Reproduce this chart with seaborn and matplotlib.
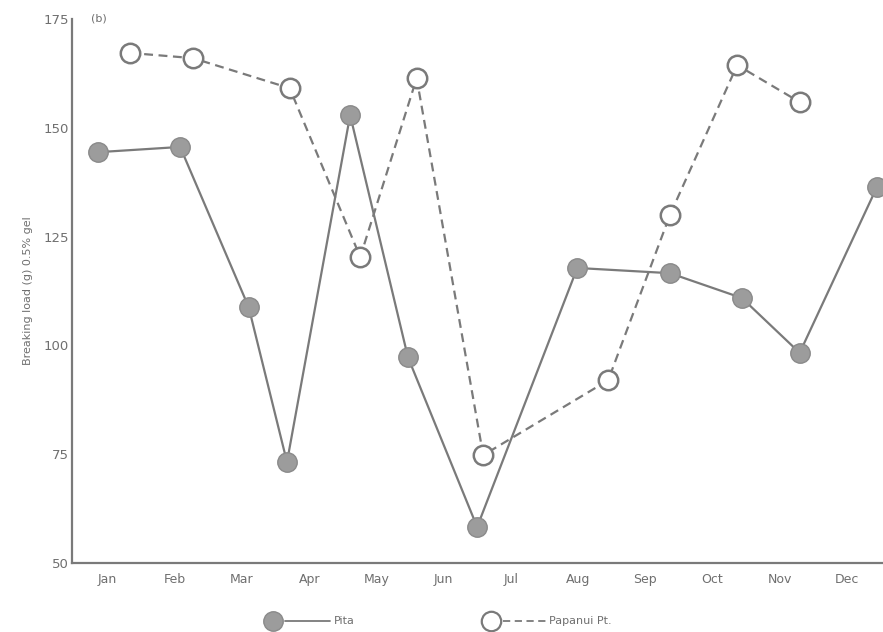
import numpy as np
import pandas as pd
import matplotlib
matplotlib.use("Agg")
import matplotlib.pyplot as plt
from matplotlib.lines import Line2D
import seaborn as sns

# Sampling time in months from 1 January, and breaking load (g) of a 0.5% gel
pita_month = [0.36, 1.58, 2.60, 3.17, 4.11, 4.97, 6.00, 7.49, 8.87, 9.94, 10.80, 11.95]
pita_load = [144.4, 145.6, 108.8, 73.2, 152.9, 97.3, 58.3, 117.8, 116.6, 110.9, 98.3, 136.4]

papanui_month = [0.83, 1.77, 3.21, 4.26, 5.10, 6.09, 7.95, 8.87, 9.87, 10.80]
papanui_load = [167.2, 166.0, 159.1, 120.3, 161.4, 74.8, 92.0, 130.0, 164.4, 155.9]

month_labels = ["Jan", "Feb", "Mar", "Apr", "May", "Jun",
                "Jul", "Aug", "Sep", "Oct", "Nov", "Dec"]
y_ticks = [50, 75, 100, 125, 150, 175]

pita = pd.DataFrame({"month": pita_month, "load": pita_load})
papanui = pd.DataFrame({"month": papanui_month, "load": papanui_load})

sns.set_style("white")
plt.rcParams["font.family"] = ["DejaVu Sans"]

ink = "#7a7a7a"
fill = "#9c9c9c"

fig = plt.figure(figsize=(8.83, 6.32), dpi=100)
ax = fig.add_axes([0.0815, 0.109, 0.9185, 0.861])

sns.lineplot(data=pita, x="month", y="load", ax=ax, color=ink, lw=1.6,
             marker="o", markersize=14, markerfacecolor=fill,
             markeredgecolor="#8a8a8a", markeredgewidth=1.0, sort=False,
             clip_on=False, zorder=3)
sns.lineplot(data=papanui, x="month", y="load", ax=ax, color=ink, lw=1.6,
             linestyle=(0, (4, 2.5)), marker="o", markersize=14,
             markerfacecolor="white", markeredgecolor=ink,
             markeredgewidth=1.8, sort=False, clip_on=False, zorder=4)

ax.set_xlim(-0.03, 12.04)
ax.set_ylim(50, 175)

# Month boundaries carry the tick marks; names sit mid-month
ax.set_xticks(np.arange(1, 13))
ax.set_xticklabels([])
ax.set_xticks(np.arange(12) + 0.5, minor=True)
ax.set_xticklabels(month_labels, minor=True)
ax.tick_params(axis="x", which="major", direction="in", length=5,
               width=1.2, color=ink)
ax.tick_params(axis="x", which="minor", length=0, pad=7,
               labelsize=9, labelcolor="#6f6f6f")

ax.set_yticks(y_ticks)
ax.set_yticklabels([str(v) for v in y_ticks])
ax.tick_params(axis="y", direction="in", length=7, width=1.2, color=ink,
               pad=2, labelsize=9.5, labelcolor="#6f6f6f")

for side in ("top", "right"):
    ax.spines[side].set_visible(False)
for side in ("left", "bottom"):
    ax.spines[side].set_color(ink)
    ax.spines[side].set_linewidth(1.6)

ax.set_xlabel("")
ax.set_ylabel("Breaking load (g) 0.5% gel", fontsize=8, color="#6f6f6f",
              labelpad=8)

ax.text(0.023, 1.0, "(b)", transform=ax.transAxes, fontsize=8,
        color="#6f6f6f", va="center", ha="left")

# Key beneath the axis
W, H = 883.0, 632.0
def fx(px):
    return px / W
def fy(py):
    return 1 - py / H

ky = 621
fig.add_artist(Line2D([fx(285), fx(330)], [fy(ky), fy(ky)], color=ink,
                      lw=1.3, transform=fig.transFigure))
fig.add_artist(Line2D([fx(273)], [fy(ky)], marker="o", markersize=14,
                      markerfacecolor=fill, markeredgecolor="#8a8a8a",
                      transform=fig.transFigure))
fig.text(fx(334), fy(ky), "Pita", fontsize=8, color="#6f6f6f",
         va="center", ha="left")

fig.add_artist(Line2D([fx(503), fx(546)], [fy(ky), fy(ky)], color=ink,
                      lw=1.3, linestyle=(0, (4, 2.5)),
                      transform=fig.transFigure))
fig.add_artist(Line2D([fx(491)], [fy(ky)], marker="o", markersize=14,
                      markerfacecolor="white", markeredgecolor=ink,
                      markeredgewidth=1.6, transform=fig.transFigure))
fig.text(fx(549), fy(ky), "Papanui Pt.", fontsize=8, color="#6f6f6f",
         va="center", ha="left")

fig.savefig("out.png", dpi=100, facecolor="white")
